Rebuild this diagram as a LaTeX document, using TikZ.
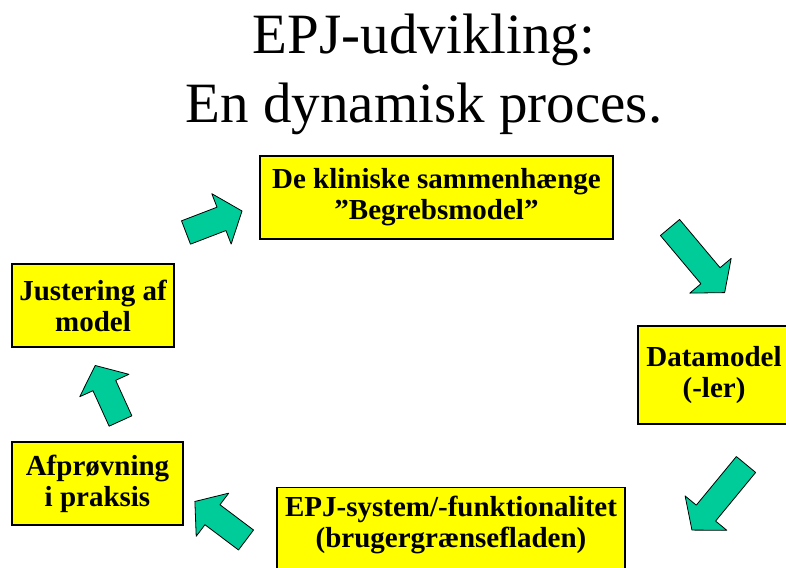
\documentclass[tikz,border=0pt]{standalone}
\usepackage{fontspec}
\setmainfont{Liberation Serif}
\usepackage{tikz}
\usetikzlibrary{positioning}

\definecolor{pilgroen}{RGB}{0,204,153}
\definecolor{boksgul}{RGB}{255,255,0}

\tikzset{
    boks/.style = {draw = black, fill = boksgul, line width = 1.2pt, inner sep = 0pt},
    bokstekst/.style = {font = \bfseries\fontsize{29}{31}\selectfont, align = center, inner sep = 0pt},
    pilkant/.style = {draw = black, fill = pilgroen, line width = 0.8pt, line join = round},
    pics/blokpil/.style = {code = {
        \draw [pilkant] (0,-12.5) -- ({#1-22},-12.5) -- ({#1-22},-27) -- (#1,0) -- ({#1-22},27) -- ({#1-22},12.5) -- (0,12.5) -- cycle;
    }}
}

\begin{document}
\begin{tikzpicture}[x = 1pt, y = 1pt]
    \useasboundingbox (0,0) rectangle (786,567);
    \clip (0,0) rectangle (786,567);
    \node (titel) at (424,493) [align = center, inner sep = 0pt, font = \fontsize{57}{69}\selectfont] {EPJ-udvikling:\\En dynamisk proces.};
    \node (sammenhaenge) at (436.5,369.5) [boks, bokstekst, minimum width = 353, minimum height = 83] {De kliniske sammenhænge\\”Begrebsmodel”};
    \node (datamodel) at (714,192) [boks, bokstekst, minimum width = 152, minimum height = 98] {Datamodel\\(-ler)};
    \node (epj) at (451,80) [boks, anchor = north, minimum width = 348, minimum height = 88] {};
    \node (epjtekst) [bokstekst, below = 9pt of epj.north] {EPJ-system/-funktionalitet\\(brugergrænsefladen)};
    \node (afproevning) at (97.5,83.5) [boks, bokstekst, minimum width = 171, minimum height = 83] {Afprøvning\\i praksis};
    \node (justering) at (93,261.5) [boks, bokstekst, minimum width = 162, minimum height = 83] {Justering af\\model};
    \pic [rotate = 21] (pil1) at (186,334.5) {blokpil = 60};
    \pic [rotate = -50] (pil2) at (670,339.5) {blokpil = 85};
    \pic [rotate = -129.5] (pil3) at (746,102.5) {blokpil = 85};
    \pic [rotate = 143] (pil4) at (246,27) {blokpil = 64};
    \pic [rotate = 114.5] (pil5) at (120.5,146) {blokpil = 61};
    \end{tikzpicture}
\end{document}
